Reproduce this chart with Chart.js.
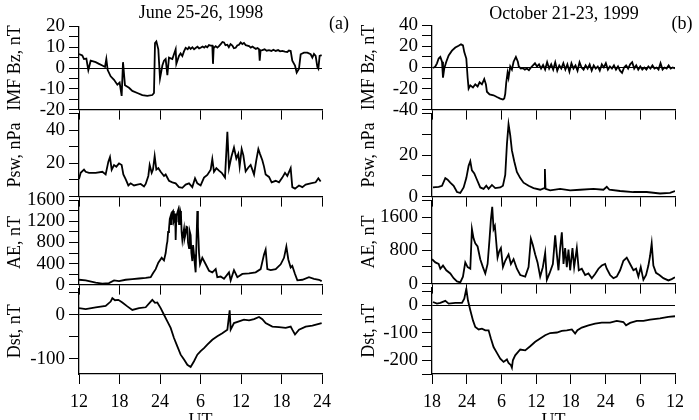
<!DOCTYPE html>
<html>
<head>
<meta charset="utf-8">
<script src="https://cdn.jsdelivr.net/npm/chart.js@4.4.1/dist/chart.umd.min.js"></script>
<style>
html, body { margin:0; padding:0; width:699px; height:420px; overflow:hidden; background:#fff; }
.box { position:absolute; }
.lbl { position:absolute; font-family:"Liberation Serif", serif; font-size:18px; color:#000; transform:translate(-50%,-50%); white-space:nowrap; }
</style>
</head>
<body>
<script>
// x axis: hours since start of each interval
const juneTickLabels = ['12', '18', '24', '6', '12', '18', '24'];
const octTickLabels = ['18', '24', '6', '12', '18', '24', '6', '12'];

// June 25-26, 1998
const juneBzT = [0,0.49,0.74,1.09,1.38,1.73,2.47,2.96,3.46,3.85,4.05,4.25,4.69,5.19,5.68,6.02,6.32,6.52,6.81,7.41,7.9,8.64,9.38,10.12,10.86,11.11,11.26,11.46,11.75,12.0,12.35,12.59,12.84,13.09,13.33,13.83,14.32,14.42,
    14.81,15.05,15.31,15.55,15.8,16.1,16.3,16.54,16.8,17.05,17.28,17.55,17.8,18.02,18.3,18.55,18.77,19.0,19.25,19.51,19.75,19.85,19.95,20.25,20.5,20.74,21.0,21.25,21.48,21.7,21.98,22.2,22.45,22.72,22.95,23.21,23.45,23.7,23.95,24.2,24.44,24.7,24.95,25.19,25.45,25.7,25.93,26.2,26.45,26.67,26.77,26.9,27.16,27.5,27.8,28.15,28.5,28.8,29.14,29.5,29.8,30.12,30.5,30.86,31.1,31.36,
    31.6,32.0,32.25,32.59,32.84,33.33,33.83,34.32,34.57,34.81,35.06,35.31,35.46,35.65,35.95];
const juneBzV = [6.7,6,4.3,4.5,-1,3.5,2.8,2,1.2,0.5,4.3,-1,-4,-5.7,-8,-7,-13.4,2.8,-8.3,-9.5,-11,-12,-13,-13.4,-13,-12,12,12.8,9,-5,1.2,3.5,4.3,-3.4,5,4.3,9,2,
    5.8,7,5.8,8,9.7,9,10,9.2,10,9,9.6,10.2,9.4,9.7,10.3,9.8,10.5,10,11,10.8,10.8,2,9.5,10.5,9.8,10.5,11.5,12.5,12.3,11,11.2,10,11.5,10.8,9.5,9.7,10.8,11.2,12.3,11.5,12,11,10.8,10.5,9.8,10.3,9.7,9.2,9.6,9,3.5,8.4,8.6,9,8.3,8.6,8.2,8.8,8.2,8.6,8,8.2,7.9,7.7,8.4,8.2,
    3.5,1.2,-2.2,-0.3,6.6,7.4,7.4,6.6,5,6.8,5.8,0.5,-0.3,5.8,6.2];

const junePswT = [0,0.25,0.74,0.99,1.48,2.47,3.46,3.95,4.35,4.59,4.84,5.19,5.53,5.93,6.32,6.57,6.91,7.31,7.65,8.15,8.64,9.14,9.63,9.88,10.27,10.47,10.77,10.96,11.21,11.46,11.75,12.1,12.59,12.84,13.33,13.83,14.32,14.81,15.31,15.8,16.3,16.79,17.19,17.53,18.02,18.52,19.01,19.51,19.75,20.0,20.35,20.74,21.14,21.63,21.98,22.22,22.57,22.96,23.31,23.6,23.8,24.1,24.35,24.69,25.09,25.43,25.68,25.93,26.27,26.57,26.81,27.16,27.41,27.65,28.15,28.54,29.14,29.63,30.12,30.52,30.86,31.36,31.6,32.0,32.59,33.09,33.58,34.32,35.06,35.46,35.8];
const junePswV = [10.5,14.3,16.2,14.9,14.3,14.3,14.9,13.3,21,23.8,16.2,19,18,20,19,13.3,10.5,6.7,8,6.7,7.2,7.6,6.1,7.6,12.4,19,14.3,16.2,24.4,16.2,17.1,14.9,12.4,13.3,9.5,8.6,8,5.7,5.3,7.2,8,5.7,11,8,6.7,11.4,13,16.2,22.5,14.9,17.1,15.6,14.3,11.4,39,17.1,23.8,29.5,22.9,25.7,18,28.6,24.8,15.2,17.5,19,16.2,13.3,21.9,28.6,25.7,21.9,18,13.3,11.8,8.6,9.5,8.6,11.4,14.3,12.4,17.1,5.7,4.8,6.7,5.7,7.2,8,8.6,11,9.1];

const juneAeT = [0,0.99,2.47,3.46,4.44,5.19,5.93,6.91,7.9,8.89,9.88,10.62,10.96,11.36,11.75,12.25,12.59,
    12.84,13.0,13.09,13.2,13.33,13.45,13.58,13.65,13.73,13.83,13.93,14.05,14.17,14.25,14.32,14.4,14.47,14.6,14.72,14.82,14.91,15.0,15.11,15.2,15.31,15.42,15.56,15.65,15.8,15.92,16.05,16.15,16.3,16.42,16.54,16.65,16.79,16.9,17.04,17.15,17.28,17.4,17.53,17.62,17.7,17.78,17.93,
    18.27,18.77,19.26,19.75,20.25,20.49,20.99,21.48,22.22,22.47,22.96,23.46,24.2,25.19,26.17,26.91,27.41,27.65,27.9,28.4,29.14,29.88,30.37,30.72,31.01,31.36,31.6,32.0,32.35,33.09,34.07,34.81,35.56,35.95];
const juneAeV = [92,80,37,18,30,80,67,92,104,116,129,141,215,294,417,509,460,
    600,760,815,1000,1060,1250,1306,1150,1214,1380,1398,1200,1244,1350,846,1200,1306,1380,1428,1150,1244,1400,1336,1000,846,950,1060,880,968,1100,1091,800,693,1000,938,600,447,750,570,400,233,800,1398,1100,877,600,386,
    509,386,264,233,294,141,153,110,233,80,276,141,202,215,233,294,570,662,294,276,294,386,509,723,478,325,355,202,80,92,141,110,92,67];

const juneDstT = [0,0.99,2.47,3.95,4.69,4.94,5.33,5.83,6.42,7.16,7.9,8.89,9.88,10.62,10.86,11.26,11.6,12.1,12.59,13.09,13.58,14.07,14.57,15.06,15.56,16.05,16.54,17.04,17.53,18.02,18.52,19.01,19.75,20.49,21.23,21.98,22.32,22.47,22.96,23.7,24.44,25.19,25.93,26.67,27.16,27.65,28.64,29.63,30.62,31.36,31.6,32.0,32.59,33.58,34.57,35.95];
const juneDstV = [15,13,17,20,30,38,33,34,28,19,11,15,17,30,34,27,28,15,0,-15,-30,-53,-72,-91,-102,-114,-119,-106,-91,-83,-76,-68,-57,-49,-42,-34,10,-34,-19,-15,-11,-13,-10,-5,-10,-19,-27,-28,-30,-27,-34,-45,-34,-27,-25,-19];

// October 21-23, 1999
const octBzT = [0.17,0.58,0.86,1.15,1.44,1.73,1.9,2.13,2.47,2.88,3.45,4.03,4.6,5.01,5.35,5.58,5.93,6.16,6.33,6.62,7.08,7.48,7.88,8.23,8.63,9.03,9.32,9.49,9.95,10.64,11.22,11.8,12.26,12.49,12.66,12.83,13.06,13.23,13.52,13.81,14.1,14.5,14.84,
    15.0,15.35,15.7,16.05,16.4,16.75,17.1,17.45,17.8,18.15,18.5,18.85,19.2,19.55,19.9,20.25,20.6,20.95,21.3,21.65,22.0,22.35,22.7,23.05,23.4,23.75,24.1,24.45,24.8,25.15,25.5,25.85,26.2,26.55,26.9,27.25,27.6,27.95,28.3,28.65,29.0,29.35,29.7,30.05,30.4,30.75,31.1,31.45,31.8,32.15,32.5,32.85,33.2,33.55,33.9,34.25,34.6,34.95,35.3,35.65,36.0,36.35,36.7,37.05,37.4,37.75,38.1,38.45,38.8,39.15,39.5,39.85,40.2,40.55,40.9,41.25,41.6,42.0];
const octBzV = [-0.6,1,4,8.5,10,5.5,-9.7,-0.6,5.5,11.5,16,19,20.7,22,21,14.6,8.5,-9.7,-20,-17,-19,-16,-18,-14,-16,-11,-16,-23,-25.5,-26.4,-28,-29.5,-30.4,-29.5,-25,-14.3,-5,-9.7,1,-2,5.5,10,5.5,
    1,-1,-0.6,-2,-1,-2.5,0,2,4,1,3,-1,2.4,-2,5,-1,3,-2,5,-3,2,-1,4,-2,3,-4,4,-1,2,-3,5,0,-2,2,-1,3,-3,2,-1,1,-3,3,0,4,-2,1,-1,2,-2,1,-3,-5,0,2,-1,3,5,-1,2,-2,1,-2,0,-2,1,-1,2,-1,0,-2,4,-2,0,-1,2,-1,0,-1];

const octPswT = [0.17,1.15,1.73,2.3,2.7,3.16,3.74,4.32,4.89,5.47,5.93,6.33,6.62,6.9,7.31,7.77,8.34,8.92,9.38,9.78,10.36,10.93,11.8,12.26,12.66,12.95,13.23,13.52,13.81,14.21,14.67,15.25,15.82,16.69,17.55,18.7,19.39,19.51,19.62,20.43,22.15,23.88,25.6,27.91,29.63,30.21,30.67,32.51,34.81,37.11,39.41,41.14,42];
const octPswV = [4.4,4.7,5.2,8.9,8.1,6.7,5.2,2.2,1.8,4.4,8.9,14.8,17,12.6,11.1,8.1,4.4,3.7,5.2,3.7,5.6,4.1,4.4,5.2,10.4,25.2,34.8,29.6,22.2,17,11.9,8.9,6.7,5.2,4.1,3.3,4.1,13.3,3.7,3,3.7,3,3.3,3.7,3.3,4.7,3.3,2.7,2.2,2.2,1.5,1.8,2.7];

const octAeT = [0,0.58,1.15,1.44,1.9,2.47,3.16,3.74,4.32,4.89,5.35,5.75,6.16,6.62,6.9,7.19,7.48,7.88,8.34,8.8,9.21,9.61,9.95,10.18,10.41,10.64,10.87,11.1,11.33,11.62,11.91,12.26,12.66,13.23,13.64,14.1,14.67,15.25,16.11,16.69,17.09,17.43,17.84,18.24,18.7,19.16,19.56,19.85,20.31,20.89,21.29,21.58,21.86,22.15,22.44,22.73,23.01,23.3,23.59,23.88,24.28,24.57,25.03,25.37,25.89,26.47,27.04,27.62,28.19,28.77,29.34,29.92,30.21,30.78,31.36,31.93,32.51,33.08,33.66,34.24,34.81,35.27,35.67,36.08,36.54,37.0,37.4,37.69,37.97,38.26,38.72,39.3,39.99,40.85,41.43,42];
const octAeV = [587,510,472,358,434,320,244,130,53,30,168,510,396,358,1311,1082,968,892,587,396,244,472,1082,1539,1844,1311,1387,1006,625,777,853,396,549,701,472,587,358,206,168,396,1082,930,701,510,168,396,739,91,244,472,1158,701,320,853,1234,472,853,396,815,320,853,396,853,320,358,206,244,130,229,358,434,472,358,206,130,168,320,549,625,472,320,358,168,396,91,206,434,663,968,434,259,206,130,76,107,152];

const octDstT = [0.17,0.86,1.44,2.3,2.88,4.03,5.18,5.58,5.93,6.21,6.62,7.08,7.48,8.06,8.63,9.21,9.78,10.18,10.64,11.22,11.8,12.37,12.95,13.23,13.64,13.81,13.98,14.38,15.25,16.11,16.97,17.84,18.7,19.56,20.43,21.58,22.44,23.3,24.17,24.74,25.14,25.89,27.04,28.19,29.34,30.78,31.93,33.08,33.54,34.24,35.39,36.54,37.69,39.41,40.85,42];
const octDstV = [12,6,8.5,16,6,8.5,8.5,24,60,18,-18,-55,-79,-88,-85,-91,-91,-121,-152,-173,-194,-206,-197,-210,-218,-227,-200,-182,-161,-164,-149,-133,-121,-109,-101,-99,-93,-91,-88,-103,-91,-81,-73,-67,-63,-63,-57,-61,-73,-64,-57,-57,-52,-48,-42,-40];

window.onload = main;

const FONT = '"Liberation Serif", "Times New Roman", serif';
const PAD_TOP = 15;

function range(a, b, step) {
    const out = [];
    for (let v = a; v <= b + 1e-9; v += step) out.push(v);
    return out;
}

function makePanel(p) {
    const xH = p.bottom ? 66 : 12;
    const div = document.createElement('div');
    div.className = 'box';
    div.style.left = p.left + 'px';
    div.style.top = (p.plotTop - PAD_TOP) + 'px';
    div.style.width = p.width + 'px';
    div.style.height = (PAD_TOP + p.plotBottom - p.plotTop + xH) + 'px';
    const cv = document.createElement('canvas');
    div.appendChild(cv);
    document.body.appendChild(div);

    const pts = p.t.map((t, i) => ({x: t, y: p.v[i]}));
    const yTicks = range(p.yMin0, p.yMax0, p.yStep);
    const xTicks = range(0, p.xMax, 6);

    new Chart(cv, {
        type: 'line',
        data: {
            datasets: [{
                data: pts,
                borderColor: '#000',
                borderWidth: 1.8,
                pointRadius: 0,
                tension: 0
            }]
        },
        options: {
            responsive: true,
            maintainAspectRatio: false,
            animation: false,
            events: [],
            layout: {
                autoPadding: false,
                padding: {left: 0, top: PAD_TOP, right: p.padRight, bottom: 0}
            },
            plugins: {legend: {display: false}, tooltip: {enabled: false}},
            scales: {
                x: {
                    type: 'linear',
                    min: 0,
                    max: p.xMax,
                    afterBuildTicks: s => { s.ticks = xTicks.map(v => ({value: v})); },
                    afterFit: s => { s.height = xH; },
                    ticks: {
                        display: p.bottom,
                        autoSkip: false,
                        maxRotation: 0,
                        padding: 7,
                        callback: v => p.xLabels[xTicks.indexOf(v)]
                    },
                    grid: {drawOnChartArea: false, tickLength: 10, tickColor: '#000', color: '#000'},
                    border: {display: true, color: '#000', width: 1.3},
                    title: {display: p.bottom, text: 'UT', padding: {top: 0, bottom: 8}}
                },
                y: {
                    type: 'linear',
                    min: p.yMin,
                    max: p.yMax,
                    afterBuildTicks: s => { s.ticks = yTicks.map(v => ({value: v})); },
                    afterFit: s => { s.width = p.axisX - p.left; },
                    ticks: {
                        padding: 4,
                        autoSkip: false,
                        font: {size: 19},
                        callback: v => p.yLabels.includes(v) ? String(v) : ''
                    },
                    grid: {
                        drawOnChartArea: p.zeroLine,
                        color: ctx => (ctx.tick && ctx.tick.value === 0) ? '#000' : 'rgba(0,0,0,0)',
                        tickColor: '#000',
                        tickLength: 10,
                        lineWidth: 1
                    },
                    border: {display: true, color: '#000', width: 1.3},
                    title: {display: true, text: p.title, padding: {top: p.titlePad, bottom: 0}}
                }
            }
        }
    });
}

function main() {
    Chart.defaults.font.family = FONT;
    Chart.defaults.font.size = 18;
    Chart.defaults.font.lineHeight = 1.2;
    Chart.defaults.color = '#000';

    const juneCol = {left: 0, width: 345, axisX: 79, padRight: 23, titlePad: 4, xMax: 36, xLabels: juneTickLabels};
    const octCol = {left: 345, width: 354, axisX: 432, padRight: 24, titlePad: 13, xMax: 42, xLabels: octTickLabels};

    // June
    makePanel(Object.assign({}, juneCol, {plotTop: 26, plotBottom: 113, t: juneBzT, v: juneBzV,
        yMin: -20, yMax: 20, yMin0: -20, yMax0: 20, yStep: 5, yLabels: [-20, -10, 0, 10, 20],
        title: 'IMF Bz, nT', zeroLine: true, bottom: false}));
    makePanel(Object.assign({}, juneCol, {plotTop: 113, plotBottom: 200, t: junePswT, v: junePswV,
        yMin: 0, yMax: 50, yMin0: 0, yMax0: 50, yStep: 10, yLabels: [20, 40],
        title: 'Psw, nPa', zeroLine: false, bottom: false}));
    makePanel(Object.assign({}, juneCol, {plotTop: 200, plotBottom: 288, t: juneAeT, v: juneAeV,
        yMin: 0, yMax: 1600, yMin0: 0, yMax0: 1600, yStep: 200, yLabels: [0, 400, 800, 1200, 1600],
        title: 'AE, nT', zeroLine: false, bottom: false}));
    makePanel(Object.assign({}, juneCol, {plotTop: 288, plotBottom: 374, t: juneDstT, v: juneDstV,
        yMin: -135, yMax: 60, yMin0: -100, yMax0: 50, yStep: 50, yLabels: [0, -100],
        title: 'Dst, nT', zeroLine: true, bottom: true}));

    // October
    makePanel(Object.assign({}, octCol, {plotTop: 25, plotBottom: 113, t: octBzT, v: octBzV,
        yMin: -40, yMax: 40, yMin0: -40, yMax0: 40, yStep: 10, yLabels: [-40, -20, 0, 20, 40],
        title: 'IMF Bz, nT', zeroLine: true, bottom: false}));
    makePanel(Object.assign({}, octCol, {plotTop: 113, plotBottom: 200, t: octPswT, v: octPswV,
        yMin: 0, yMax: 40, yMin0: 0, yMax0: 40, yStep: 10, yLabels: [0, 20],
        title: 'Psw, nPa', zeroLine: false, bottom: false}));
    makePanel(Object.assign({}, octCol, {plotTop: 200, plotBottom: 287, t: octAeT, v: octAeV,
        yMin: 0, yMax: 2000, yMin0: 0, yMax0: 2000, yStep: 400, yLabels: [0, 800, 1600],
        title: 'AE, nT', zeroLine: false, bottom: false}));
    makePanel(Object.assign({}, octCol, {plotTop: 287, plotBottom: 374, t: octDstT, v: octDstV,
        yMin: -250, yMax: 65, yMin0: -250, yMax0: 50, yStep: 50, yLabels: [0, -100, -200],
        title: 'Dst, nT', zeroLine: true, bottom: true}));

    const texts = [
        ['June 25-26, 1998', 201, 12],
        ['October 21-23, 1999', 564, 13],
        ['(a)', 339, 23],
        ['(b)', 682, 23]
    ];
    texts.forEach(([s, x, y]) => {
        const d = document.createElement('div');
        d.className = 'lbl';
        d.style.left = x + 'px';
        d.style.top = y + 'px';
        d.textContent = s;
        document.body.appendChild(d);
    });
}
</script>
</body>
</html>
